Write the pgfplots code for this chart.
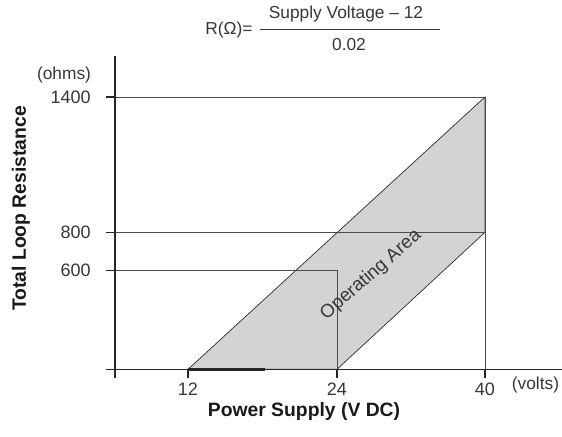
\documentclass[border=0pt]{standalone}
\usepackage{pgfplots}
\pgfplotsset{compat=1.18}
\usepackage{fontspec}
\setmainfont{Liberation Sans}
\definecolor{fillgray}{RGB}{211,211,213}
\definecolor{txt}{RGB}{55,55,55}
\begin{document}
\begin{tikzpicture}
\useasboundingbox (-86.25pt,-50.03pt) rectangle (335.25pt,276.98pt);
\begin{axis}[
  at={(0pt,0pt)}, anchor=south west,
  scale only axis, width=335.25pt, height=234.98pt,
  x coord trafo/.code={\pgfmathparse{#1<24.001 ? 73+(#1-12)*12.4167 : 222+(#1-24)*9.25}},
  y coord trafo/.code={\pgfmathparse{#1<600.01 ? #1*0.16433 : (#1<800.01 ? 98.6+(#1-600)*0.192 : 137+(#1-800)*0.2255)}},
  xmin=6.121, xmax=48.324, ymin=0, ymax=1581.8,
  axis lines*=left,
  axis line style={line width=1.2pt, black!85},
  x axis line style={shorten <=-6.75pt},
  xtick={12,24,40}, xticklabels={12,24,40},
  ytick={600,800,1400}, yticklabels={600,800,1400},
  tick align=outside, major tick length=6.75pt,
  tick style={line width=1.2pt, black!85},
  minor tick num=0,
  ticklabel style={font=\fontsize{13.5}{16}\selectfont, text=txt},
  yticklabel style={xshift=-8pt},
  clip=false, axis on top,
]
\addplot[draw=black!85, line width=0.5pt, fill=fillgray] coordinates {(12,0) (40,1400) (40,800) (24,0)} -- cycle;
\addplot[black!70, line width=0.6pt] coordinates {(6.121,1400) (40,1400) (40,0)};
\addplot[black!70, line width=0.6pt] coordinates {(6.121,800) (40,800)};
\addplot[black!70, line width=0.6pt] coordinates {(6.121,600) (24,600) (24,0)};
\addplot[black!85, line width=1.8pt] coordinates {(12,0) (18.2,0)};
\end{axis}
\draw[black!85, line width=1.2pt] (0pt,0.6pt) -- (0pt,-6.75pt);
\tikzset{every node/.style={inner sep=0pt}}
\node[font=\fontsize{13}{15}\selectfont, text=txt] at (-38.25pt,220.73pt) {(ohms)};
\node[font=\fontsize{13}{15}\selectfont, text=txt] at (315.38pt,-11.78pt) {(volts)};
\node[anchor=base west, font=\fontsize{13}{15}\selectfont, text=txt] at (67.5pt,251.1pt) {R(Ω)=};
\node[anchor=base, font=\fontsize{13}{15}\selectfont, text=txt] at (173.25pt,262.73pt) {Supply Voltage – 12};
\node[anchor=base, font=\fontsize{13}{15}\selectfont, text=txt] at (175.5pt,238.73pt) {0.02};
\draw[txt, line width=0.6pt] (108.75pt,255pt) -- (243.75pt,255pt);
\node[font=\bfseries\fontsize{14.5}{17}\selectfont, text=black!90] at (141.75pt,-32pt) {Power Supply (V DC)};
\node[rotate=90, font=\bfseries\fontsize{14.5}{17}\selectfont, text=black!90] at (-70.5pt,120.6pt) {Total Loop Resistance};
\node[rotate=41, font=\fontsize{14}{16}\selectfont, text=txt] at (192pt,70.7pt) {Operating Area};
\end{tikzpicture}
\end{document}
